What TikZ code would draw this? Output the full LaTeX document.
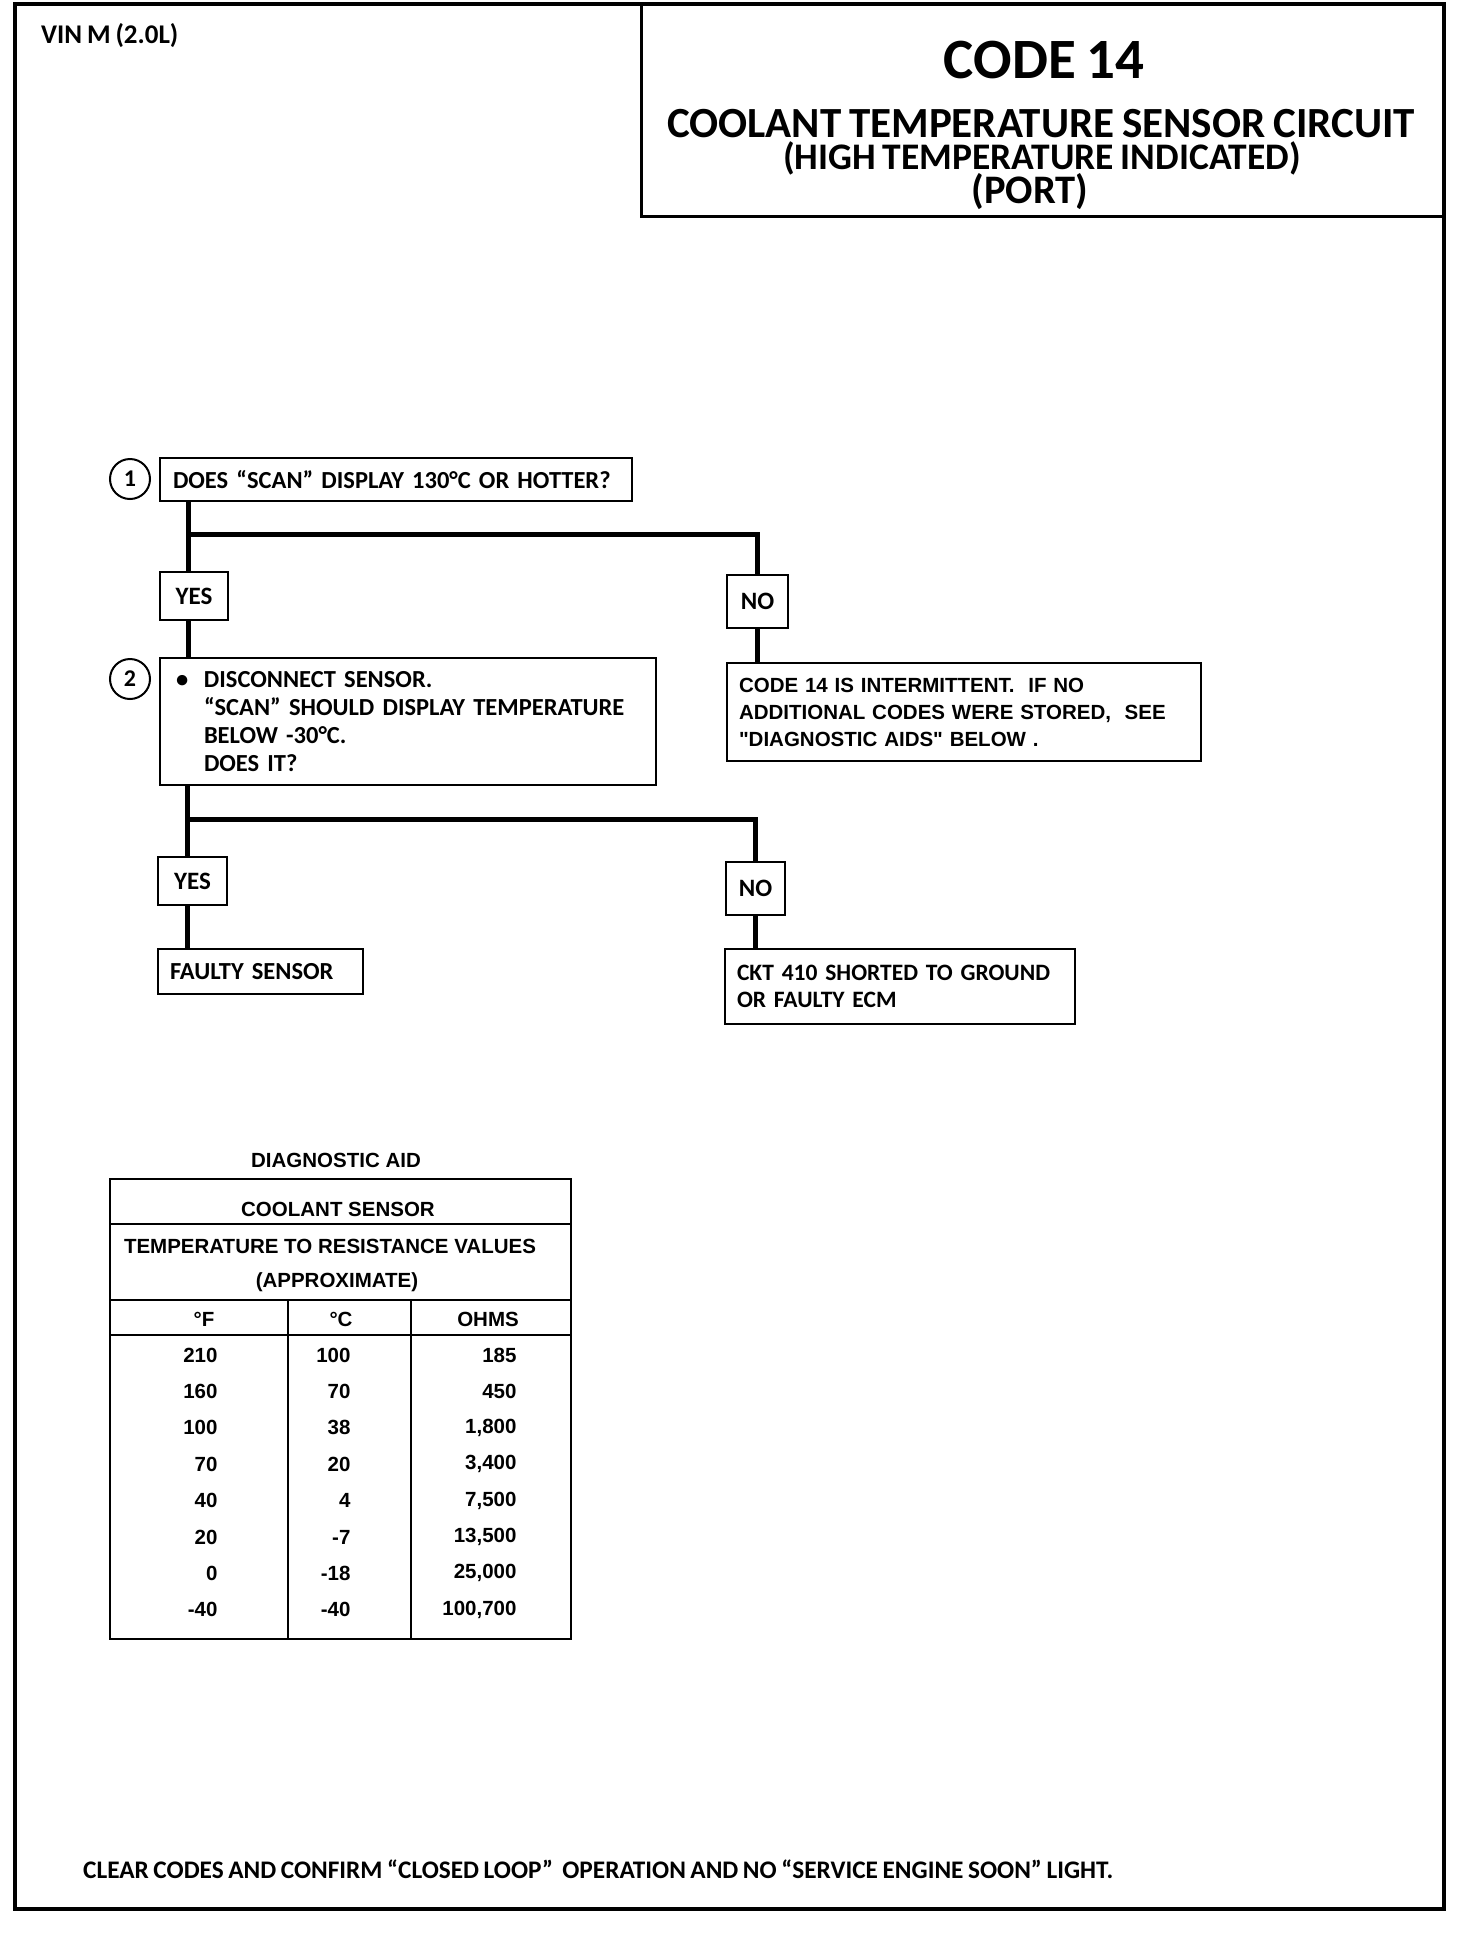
\documentclass[tikz,border=0pt]{standalone}
\usepackage{fontspec}
\setmainfont{Carlito}[WordSpace=0.8]
\newfontfamily\arialfont{Liberation Sans}
\usetikzlibrary{positioning}

\tikzset{
  chartbox/.style={draw, line width=2pt, anchor=north west, inner xsep=14pt,
    inner ysep=0pt, align=left, font=\bfseries\fontsize{24.5}{28}\selectfont},
  answer/.style={draw, line width=2pt, anchor=north west, inner sep=0pt,
    align=center, font=\bfseries\fontsize{25}{28}\selectfont},
  stepnum/.style={draw, circle, line width=2pt, minimum size=40pt, inner sep=0pt,
    font=\bfseries\fontsize{24}{28}\selectfont},
  flow/.style={line width=5pt},
  tabtext/.style={font=\arialfont\bfseries\fontsize{20.5}{24}\selectfont},
  headtext/.style={inner sep=0pt, anchor=base, font=\bfseries\fontsize{#1}{#1}\selectfont},
}

\begin{document}
\begin{tikzpicture}[x=1pt, y=-1pt]
  \useasboundingbox (0,0) rectangle (1472,1936);
  % page frame and title block
  \draw[line width=3.5pt] (15,4) rectangle (1444,1909);
  \draw[line width=3pt] (641,4) |- (1444,216);
  \node[headtext=27, anchor=base west] (vin) at (41,43) {VIN M (2.0L)};
  \node[headtext=57] (code) at (1044,78) {CODE 14};
  \node[headtext=43, text depth=0pt] (circuit) at (1041,137) {COOLANT TEMPERATURE SENSOR CIRCUIT};
  \node[headtext=37.5, text height=25pt, text depth=3pt] (hightemp) at (1042,169) {(HIGH TEMPERATURE INDICATED)};
  \node[headtext=40.5, text height=25pt] (port) at (1030,203) {(PORT)};

  % step 1
  \node[stepnum] (n1) at (130,479) {1};
  \node[chartbox, text width=446pt, inner xsep=13pt, minimum height=43pt] (q1) at (159,457)
    {DOES “SCAN” DISPLAY 130°C OR HOTTER?};
  \node[answer, minimum width=68pt, minimum height=48pt] (yes1) at (159,571) {YES};
  \node[answer, minimum width=61pt, minimum height=53pt] (no1) at (726,574) {NO};
  \node[chartbox, inner xsep=12pt, text width=450pt, minimum height=98pt,
        font=\arialfont\bfseries\fontsize{20.5}{27}\selectfont] (intm) at (726,662)
    {CODE 14 IS INTERMITTENT.\ \ IF NO\\ADDITIONAL CODES WERE STORED,\ \ SEE\\"DIAGNOSTIC AIDS" BELOW\ .};

  % step 2
  \node[stepnum] (n2) at (130,679) {2};
  \node[chartbox, inner xsep=16pt, text width=464pt, minimum height=127pt] (q2) at (159,657)
    {\makebox[28pt][l]{\textbullet}DISCONNECT SENSOR.\\
     \hspace*{28pt}“SCAN” SHOULD DISPLAY TEMPERATURE\\
     \hspace*{28pt}BELOW -30°C.\\
     \hspace*{28pt}DOES IT?};
  \node[answer, minimum width=69pt, minimum height=48pt] (yes2) at (157,856) {YES};
  \node[answer, minimum width=59pt, minimum height=53pt] (no2) at (725,861) {NO};
  \node[chartbox, inner xsep=12pt, text width=181pt, minimum height=45pt] (sensor) at (157,948)
    {FAULTY SENSOR};
  \node[chartbox, inner xsep=12pt, text width=326pt, minimum height=75pt,
        font=\bfseries\fontsize{23.5}{27}\selectfont] (ckt) at (724,948)
    {\mbox{CKT 410 SHORTED TO GROUND}\\OR FAULTY ECM};

  % connectors
  \coordinate (fork1) at (188,534);
  \coordinate (fork2) at (187,819);
  \draw[flow] (q1.south -| fork1) -- (fork1) -| (no1.north);
  \draw[flow] (fork1) -- (yes1.north -| fork1);
  \draw[flow] (yes1.south -| fork1) -- (q2.north -| fork1);
  \draw[flow] (no1.south) -- (no1.south |- intm.north);
  \draw[flow] (q2.south -| fork2) -- (fork2) -| (no2.north);
  \draw[flow] (fork2) -- (yes2.north -| fork2);
  \draw[flow] (yes2.south -| fork2) -- (sensor.north -| fork2);
  \draw[flow] (no2.south) -- (no2.south |- ckt.north);

  % diagnostic aid table
  \node[tabtext] (aid) at (336,1160) {DIAGNOSTIC AID};
  \draw[line width=2.5pt] (110,1179) rectangle (571,1639);
  \draw[line width=2.5pt] (110,1224) -- (571,1224) (110,1300) -- (571,1300)
    (110,1335) -- (571,1335) (288,1300) -- (288,1639) (411,1300) -- (411,1639);
  \node[tabtext] (sensorhead) at (338,1209) {COOLANT SENSOR};
  \node[tabtext] (tempres) at (330,1246) {TEMPERATURE TO RESISTANCE VALUES};
  \node[tabtext] (approx) at (337,1282) {(APPROXIMATE)};
  \node[tabtext] (colf) at (204,1319) {°F};
  \node[tabtext] (colc) at (341,1319) {°C};
  \node[tabtext] (colohm) at (488,1319) {OHMS};
  \foreach \degf/\degc/\ohms [count=\i] in {{210/100/185}, {160/70/450}, {100/38/1,800},
      {70/20/3,400}, {40/4/7,500}, {20/-7/13,500}, {0/-18/25,000}, {-40/-40/100,700}} {
    \node[tabtext, anchor=east] (f\i) at (221,{1355+36.4*(\i-1)}) {\degf};
    \node[tabtext, anchor=east] (c\i) at (354,{1355+36.4*(\i-1)}) {\degc};
    \node[tabtext, anchor=east] (r\i) at (520,{1355+36.4*(\i-1)}) {\ohms};
  }

  \node[headtext=25.3, anchor=base west] (footer) at (83,1878)
    {CLEAR CODES AND CONFIRM “CLOSED LOOP”\ \ OPERATION AND NO “SERVICE ENGINE SOON” LIGHT.};
\end{tikzpicture}
\end{document}
